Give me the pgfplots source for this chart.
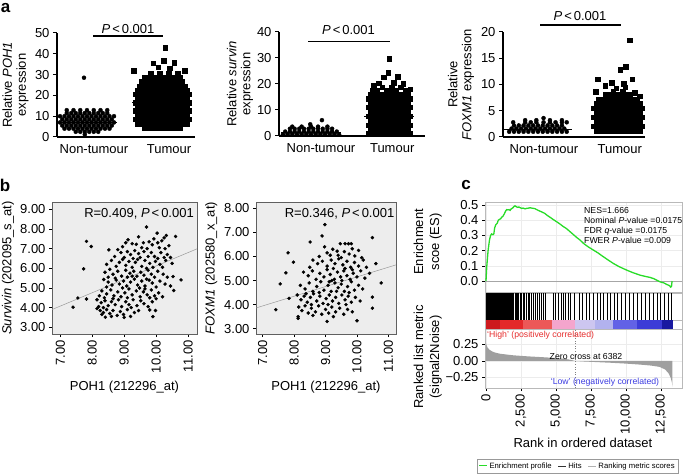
\documentclass[border=0pt]{standalone}
\usepackage{pgfplots}
\pgfplotsset{compat=1.18}
\usepackage{fontspec}
\setmainfont{Liberation Sans}
\newcommand\fsa{\fontsize{13}{14}\selectfont}
\newcommand\fsl{\fontsize{13}{16}\selectfont}
\newcommand\fsb{\fontsize{8.7}{10}\selectfont}
\newcommand\fsc{\fontsize{7.7}{9}\selectfont}
\definecolor{esgreen}{RGB}{40,220,40}
\definecolor{hired}{RGB}{230,45,45}
\definecolor{lowblue}{RGB}{60,60,225}
\definecolor{cbA}{RGB}{205,25,30}
\definecolor{cbB}{RGB}{228,40,42}
\definecolor{cbC}{RGB}{236,88,88}
\definecolor{cbD}{RGB}{244,165,205}
\definecolor{cbE}{RGB}{205,198,240}
\definecolor{cbF}{RGB}{178,178,238}
\definecolor{cbG}{RGB}{98,98,230}
\definecolor{cbH}{RGB}{60,60,215}
\definecolor{cbI}{RGB}{25,25,160}
\pgfplotsset{
  /pgf/number format/assume math mode=true,
  every axis/.append style={scale only axis, anchor=south west, enlargelimits=false,
    tick label style={font=\fsa}, label style={font=\fsa}, scaled ticks=false},
  apanel/.style={axis lines*=left, axis line style={-,line width=1.1pt,black},
    tick align=outside, major tick length=4pt, y tick style={line width=1pt,black},
    x tick style={draw=none}, clip=false, ylabel style={align=center, anchor=center}},
  bpanel/.style={axis background/.style={fill=gray!14},
    axis line style={gray!75!black, line width=0.7pt},
    tick align=outside, xtick pos=left, ytick pos=left, major tick length=3pt,
    tick style={black, line width=0.6pt},
    xtick={7,8,9,10,11}, ytick={3,4,5,6,7,8,9},
    xticklabel style={rotate=90, anchor=east, /pgf/number format/.cd, fixed, fixed zerofill, precision=2},
    yticklabel style={/pgf/number format/.cd, fixed, fixed zerofill, precision=2},
    ylabel style={anchor=center}, xlabel style={anchor=center}},
  circ/.style={only marks, mark=*, mark size=2pt, black, mark options={fill=black}},
  sq/.style={only marks, mark=square*, mark size=2.3pt, black, mark options={fill=black}},
  dot/.style={only marks, mark=*, mark size=1.55pt, black, mark options={fill=black}},
}
\begin{document}
\begin{tikzpicture}[x=1pt,y=1pt]
\useasboundingbox (0,0) rectangle (685,474);

% ================= a1 =================
\begin{axis}[apanel, at={(57pt,337pt)}, width=138pt, height=104pt,
  xmin=-0.40, xmax=1.44, ymin=0, ymax=50, ytick={0,10,20,30,40,50},
  xtick={0.093,1.093}, xticklabels={Non-tumour,Tumour},
  ylabel={Relative \textit{POH1}\\expression},
  ylabel style={at={(axis description cs:-0.30,0.5)}}]
\addplot[circ] coordinates {(-0.03,1.2)
(-0.15,2.5)(-0.09,2.5)(-0.03,2.5)(0.03,2.5)(0.09,2.5)(0.15,2.5)
(-0.30,4)(-0.24,4)(-0.18,4)(-0.12,4)(-0.06,4)(0,4)(0.06,4)(0.12,4)(0.18,4)(0.24,4)(0.30,4)
(-0.33,5.5)(-0.27,5.5)(-0.21,5.5)(-0.15,5.5)(-0.09,5.5)(-0.03,5.5)(0.03,5.5)(0.09,5.5)(0.15,5.5)(0.21,5.5)(0.27,5.5)(0.33,5.5)
(-0.36,7)(-0.30,7)(-0.24,7)(-0.18,7)(-0.12,7)(-0.06,7)(0,7)(0.06,7)(0.12,7)(0.18,7)(0.24,7)(0.30,7)(0.36,7)
(-0.33,8.5)(-0.27,8.5)(-0.21,8.5)(-0.15,8.5)(-0.09,8.5)(-0.03,8.5)(0.03,8.5)(0.09,8.5)(0.15,8.5)(0.21,8.5)(0.27,8.5)(0.33,8.5)
(-0.36,10)(-0.30,10)(-0.24,10)(-0.18,10)(-0.12,10)(-0.06,10)(0,10)(0.06,10)(0.12,10)(0.18,10)(0.24,10)(0.30,10)(0.36,10)
(-0.27,11.5)(-0.21,11.5)(-0.15,11.5)(-0.09,11.5)(-0.03,11.5)(0.03,11.5)(0.09,11.5)(0.15,11.5)(0.21,11.5)(0.27,11.5)
(-0.27,12.9)(-0.18,12.9)(-0.09,12.9)(0,12.9)(0.09,12.9)(0.18,12.9)(0.27,12.9)
(-0.04,28.5)};
\addplot[sq] coordinates {
(0.76,4.5)(0.82,4.5)(0.88,4.5)(0.94,4.5)(1,4.5)(1.06,4.5)(1.12,4.5)(1.18,4.5)(1.24,4.5)
(0.67,6.5)(0.73,6.5)(0.79,6.5)(0.85,6.5)(0.91,6.5)(0.97,6.5)(1.03,6.5)(1.09,6.5)(1.15,6.5)(1.21,6.5)(1.27,6.5)(1.33,6.5)
(0.64,8.5)(0.70,8.5)(0.76,8.5)(0.82,8.5)(0.88,8.5)(0.94,8.5)(1,8.5)(1.06,8.5)(1.12,8.5)(1.18,8.5)(1.24,8.5)(1.30,8.5)(1.36,8.5)
(0.67,10.5)(0.73,10.5)(0.79,10.5)(0.85,10.5)(0.91,10.5)(0.97,10.5)(1.03,10.5)(1.09,10.5)(1.15,10.5)(1.21,10.5)(1.27,10.5)(1.33,10.5)
(0.64,12.5)(0.70,12.5)(0.76,12.5)(0.82,12.5)(0.88,12.5)(0.94,12.5)(1,12.5)(1.06,12.5)(1.12,12.5)(1.18,12.5)(1.24,12.5)(1.30,12.5)(1.36,12.5)
(0.67,14.5)(0.73,14.5)(0.79,14.5)(0.85,14.5)(0.91,14.5)(0.97,14.5)(1.03,14.5)(1.09,14.5)(1.15,14.5)(1.21,14.5)(1.27,14.5)(1.33,14.5)
(0.64,16.5)(0.70,16.5)(0.76,16.5)(0.82,16.5)(0.88,16.5)(0.94,16.5)(1,16.5)(1.06,16.5)(1.12,16.5)(1.18,16.5)(1.24,16.5)(1.30,16.5)(1.36,16.5)
(0.67,18.5)(0.73,18.5)(0.79,18.5)(0.85,18.5)(0.91,18.5)(0.97,18.5)(1.03,18.5)(1.09,18.5)(1.15,18.5)(1.21,18.5)(1.27,18.5)(1.33,18.5)
(0.64,20.5)(0.70,20.5)(0.76,20.5)(0.82,20.5)(0.88,20.5)(0.94,20.5)(1,20.5)(1.06,20.5)(1.12,20.5)(1.18,20.5)(1.24,20.5)(1.30,20.5)(1.36,20.5)
(0.67,22.5)(0.73,22.5)(0.79,22.5)(0.85,22.5)(0.91,22.5)(0.97,22.5)(1.03,22.5)(1.09,22.5)(1.15,22.5)(1.21,22.5)(1.27,22.5)(1.33,22.5)
(0.70,24.5)(0.76,24.5)(0.82,24.5)(0.88,24.5)(0.94,24.5)(1,24.5)(1.06,24.5)(1.12,24.5)(1.18,24.5)(1.24,24.5)(1.30,24.5)
(0.73,26.5)(0.79,26.5)(0.85,26.5)(0.91,26.5)(0.97,26.5)(1.03,26.5)(1.09,26.5)(1.15,26.5)(1.21,26.5)(1.27,26.5)
(0.76,28.5)(0.82,28.5)(0.88,28.5)(0.94,28.5)(1,28.5)(1.06,28.5)(1.12,28.5)(1.18,28.5)(1.24,28.5)
(0.85,30.3)(0.97,30.3)(1.09,30.3)(1.21,30.3)
(0.62,32.0)(1.30,31.8)(0.95,33.5)(1.10,33.0)(0.88,35.5)(1.16,35.8)(1.02,36.8)(1.04,43.0)};
\addplot[black, line width=1pt] coordinates {(-0.40,7.2)(0.40,7.2)};
\addplot[black, line width=1pt] coordinates {(0.60,16.8)(1.40,16.8)};
\end{axis}

% ================= a2 =================
\begin{axis}[apanel, at={(279pt,338pt)}, width=146pt, height=104pt,
  xmin=-0.41, xmax=1.46, ymin=0, ymax=40, ytick={0,10,20,30,40},
  xtick={0.128,1.04}, xticklabels={Non-tumour,Tumour},
  ylabel={Relative \textit{survin}\\expression},
  ylabel style={at={(axis description cs:-0.267,0.5)}}]
\addplot[circ] coordinates {
(-0.36,0.6)(-0.30,0.6)(-0.24,0.6)(-0.18,0.6)(-0.12,0.6)(-0.06,0.6)(0,0.6)(0.06,0.6)(0.12,0.6)(0.18,0.6)(0.24,0.6)(0.30,0.6)(0.36,0.6)
(-0.33,1.7)(-0.27,1.7)(-0.21,1.7)(-0.15,1.7)(-0.09,1.7)(-0.03,1.7)(0.03,1.7)(0.09,1.7)(0.15,1.7)(0.21,1.7)(0.27,1.7)(0.33,1.7)
(-0.27,2.8)(-0.21,2.8)(-0.15,2.8)(-0.09,2.8)(-0.03,2.8)(0.03,2.8)(0.09,2.8)(0.15,2.8)(0.21,2.8)(0.27,2.8)
(-0.24,3.6)(-0.12,3.6)(0,3.6)(0.09,3.6)(0.21,3.6)
(-0.01,4.5)(0.14,6.1)};
\addplot[sq] coordinates {
(0.73,0.8)(0.79,0.8)(0.85,0.8)(0.91,0.8)(0.97,0.8)(1.03,0.8)(1.09,0.8)(1.15,0.8)(1.21,0.8)(1.27,0.8)
(0.76,2.5)(0.82,2.5)(0.88,2.5)(0.94,2.5)(1,2.5)(1.06,2.5)(1.12,2.5)(1.18,2.5)(1.24,2.5)
(0.73,4.2)(0.79,4.2)(0.85,4.2)(0.91,4.2)(0.97,4.2)(1.03,4.2)(1.09,4.2)(1.15,4.2)(1.21,4.2)(1.27,4.2)
(0.76,5.9)(0.82,5.9)(0.88,5.9)(0.94,5.9)(1,5.9)(1.06,5.9)(1.12,5.9)(1.18,5.9)(1.24,5.9)
(0.73,7.6)(0.79,7.6)(0.85,7.6)(0.91,7.6)(0.97,7.6)(1.03,7.6)(1.09,7.6)(1.15,7.6)(1.21,7.6)(1.27,7.6)
(0.76,9.3)(0.82,9.3)(0.88,9.3)(0.94,9.3)(1,9.3)(1.06,9.3)(1.12,9.3)(1.18,9.3)(1.24,9.3)
(0.73,11.0)(0.79,11.0)(0.85,11.0)(0.91,11.0)(0.97,11.0)(1.03,11.0)(1.09,11.0)(1.15,11.0)(1.21,11.0)(1.27,11.0)
(0.76,12.7)(0.82,12.7)(0.88,12.7)(0.94,12.7)(1,12.7)(1.06,12.7)(1.12,12.7)(1.18,12.7)(1.24,12.7)
(0.73,14.4)(0.79,14.4)(0.85,14.4)(0.91,14.4)(0.97,14.4)(1.03,14.4)(1.09,14.4)(1.15,14.4)(1.21,14.4)(1.27,14.4)
(0.76,16.1)(0.82,16.1)(0.88,16.1)(0.94,16.1)(1,16.1)(1.06,16.1)(1.12,16.1)(1.18,16.1)(1.24,16.1)
(0.79,17.6)(0.85,17.6)(0.97,17.6)(1.03,17.6)(1.09,17.6)(1.21,17.6)
(0.91,18.8)(1.03,18.8)(1.15,18.8)(1.27,18.0)
(0.80,19.4)(1.18,20.0)(0.87,20.3)(1.06,20.6)(0.93,22.6)(1.11,22.9)(0.99,24.3)(1.0,29.8)};
\addplot[black, line width=1pt] coordinates {(-0.38,1.5)(0.38,1.5)};
\addplot[black, line width=1pt] coordinates {(0.68,7.5)(1.32,7.5)};
\end{axis}

% ================= a3 =================
\begin{axis}[apanel, at={(503pt,337pt)}, width=142pt, height=105pt,
  xmin=-0.4375, xmax=1.34, ymin=0, ymax=20, ytick={0,5,10,15,20},
  xtick={0.075,1.025}, xticklabels={Non-tumour,Tumour},
  ylabel={Relative\\\textit{FOXM1} expression},
  ylabel style={at={(axis description cs:-0.296,0.5)}}]
\addplot[circ] coordinates {
(-0.36,1.0)(-0.30,1.0)(-0.24,1.0)(-0.18,1.0)(-0.12,1.0)(-0.06,1.0)(0,1.0)(0.06,1.0)(0.12,1.0)(0.18,1.0)(0.24,1.0)(0.30,1.0)(0.36,1.0)
(-0.33,1.6)(-0.27,1.6)(-0.21,1.6)(-0.15,1.6)(-0.09,1.6)(-0.03,1.6)(0.03,1.6)(0.09,1.6)(0.15,1.6)(0.21,1.6)(0.27,1.6)(0.33,1.6)
(-0.30,2.2)(-0.24,2.2)(-0.18,2.2)(-0.12,2.2)(-0.06,2.2)(0,2.2)(0.06,2.2)(0.12,2.2)(0.18,2.2)(0.24,2.2)(0.30,2.2)
(-0.31,2.8)(-0.16,2.8)(-0.09,2.8)(-0.02,2.8)(0.07,2.8)(0.15,2.8)(0.22,2.8)(0.30,2.8)(0.36,2.8)
(-0.16,3.2)(-0.02,3.2)(0.15,3.2)(0.30,3.2)(0.07,3.6)};
\addplot[sq] coordinates {
(0.73,1.2)(0.79,1.2)(0.85,1.2)(0.91,1.2)(0.97,1.2)(1.03,1.2)(1.09,1.2)(1.15,1.2)(1.21,1.2)(1.27,1.2)
(0.70,2.05)(0.76,2.05)(0.82,2.05)(0.88,2.05)(0.94,2.05)(1,2.05)(1.06,2.05)(1.12,2.05)(1.18,2.05)(1.24,2.05)(1.30,2.05)
(0.73,2.9)(0.79,2.9)(0.85,2.9)(0.91,2.9)(0.97,2.9)(1.03,2.9)(1.09,2.9)(1.15,2.9)(1.21,2.9)(1.27,2.9)
(0.70,3.75)(0.76,3.75)(0.82,3.75)(0.88,3.75)(0.94,3.75)(1,3.75)(1.06,3.75)(1.12,3.75)(1.18,3.75)(1.24,3.75)(1.30,3.75)
(0.73,4.6)(0.79,4.6)(0.85,4.6)(0.91,4.6)(0.97,4.6)(1.03,4.6)(1.09,4.6)(1.15,4.6)(1.21,4.6)(1.27,4.6)
(0.70,5.45)(0.76,5.45)(0.82,5.45)(0.88,5.45)(0.94,5.45)(1,5.45)(1.06,5.45)(1.12,5.45)(1.18,5.45)(1.24,5.45)(1.30,5.45)
(0.73,6.3)(0.79,6.3)(0.85,6.3)(0.91,6.3)(0.97,6.3)(1.03,6.3)(1.09,6.3)(1.15,6.3)(1.21,6.3)(1.27,6.3)
(0.76,7.15)(0.82,7.15)(0.88,7.15)(0.94,7.15)(1,7.15)(1.06,7.15)(1.12,7.15)(1.18,7.15)(1.24,7.15)
(0.85,8.0)(0.91,8.0)(0.97,8.0)(1.03,8.0)(1.09,8.0)(1.15,8.0)(0.94,8.7)(1.06,8.7)
(1.27,7.8)(0.72,8.6)(1.21,8.4)(0.98,9.3)(1.09,9.5)(0.84,9.8)(1.07,10.2)(0.92,10.3)(0.75,11.0)(1.18,11.0)
(1.03,12.8)(1.10,13.4)(1.15,18.4)};
\addplot[black, line width=1pt] coordinates {(-0.42,1.4)(0.42,1.4)};
\addplot[black, line width=1pt] coordinates {(0.66,3.9)(1.34,3.9)};
\end{axis}

% P-value brackets
\draw[line width=1.1pt] (93,438) -- (163,438);
\node[anchor=base, font=\fsa, inner sep=0] at (128,440.5) {\textit{P}\hspace{2pt}<\hspace{2pt}0.001};
\draw[line width=1.1pt] (308,432.3) -- (390,432.3);
\node[anchor=base, font=\fsa, inner sep=0] at (348.5,439.3) {\textit{P}\hspace{2pt}<\hspace{2pt}0.001};
\draw[line width=1.1pt] (540,449) -- (621,449);
\node[anchor=base, font=\fsa, inner sep=0] at (580,453.3) {\textit{P}\hspace{2pt}<\hspace{2pt}0.001};

% ================= b1 =================
\begin{axis}[bpanel, at={(52pt,140pt)}, width=145pt, height=132pt,
  xmin=6.74, xmax=11.28, ymin=2.657, ymax=9.374,
  ylabel={\textit{Survivin} (202095\_s\_at)},
  ylabel style={at={(axis description cs:-0.303,0.5)}},
  xlabel={POH1 (212296\_at)},
  xlabel style={at={(axis description cs:0.5,-0.40)}}]
\addplot[gray!80, line width=0.5pt] coordinates {(6.74,3.9)(11.28,6.99)};
\addplot[dot] coordinates {
(9.70,8.10)(10.03,7.79)(10.32,7.67)(10.61,7.62)(9.45,7.60)(9.93,7.50)(10.25,7.55)(9.12,7.45)
(7.82,7.37)(7.97,7.11)(9.05,7.30)(9.25,7.25)(9.38,7.22)(9.60,7.30)(9.78,7.35)(9.88,7.20)(10.05,7.30)(10.18,7.40)(10.40,7.15)(8.52,6.94)(8.95,7.10)(9.55,7.05)(9.72,7.00)(10.10,7.05)(10.28,7.00)
(8.80,6.95)(8.90,6.80)(9.10,6.85)(9.20,6.70)(9.33,6.90)(9.45,6.75)(9.62,6.85)(9.85,6.80)(9.95,6.60)(10.15,6.80)(10.35,6.70)(10.45,6.55)(8.70,6.60)(9.00,6.55)(9.28,6.50)(9.50,6.55)(9.75,6.60)(10.05,6.50)(10.25,6.55)
(8.60,6.40)(8.85,6.30)(8.95,6.45)(9.15,6.35)(9.35,6.30)(9.42,6.45)(9.65,6.40)(9.80,6.25)(9.98,6.35)(10.12,6.20)(10.30,6.40)(8.75,6.10)(9.05,6.15)(9.25,6.05)(9.55,6.10)(9.70,6.00)(9.90,6.05)(10.20,6.05)(10.50,6.25)(7.73,5.97)(8.45,6.20)
(8.40,5.80)(8.55,5.95)(8.65,5.70)(8.80,5.85)(8.92,5.60)(9.05,5.90)(9.18,5.75)(9.30,5.85)(9.40,5.60)(9.52,5.80)(9.62,5.65)(9.75,5.90)(9.85,5.70)(9.95,5.55)(10.05,5.85)(10.22,5.70)(10.35,5.55)(10.53,5.58)(10.78,5.41)(8.50,5.55)(8.72,5.50)(9.10,5.55)(9.25,5.60)
(8.36,5.43)(8.50,5.30)(8.62,5.15)(8.75,5.40)(8.85,5.20)(8.98,5.35)(9.08,5.10)(9.20,5.30)(9.32,5.45)(9.42,5.15)(9.55,5.35)(9.65,5.10)(9.78,5.40)(9.88,5.25)(10.00,5.05)(10.12,5.35)(10.28,5.20)(10.45,5.10)(8.45,5.05)(8.95,5.00)(9.48,5.00)(9.70,5.45)
(8.30,4.85)(8.45,4.70)(8.58,4.90)(8.68,4.60)(8.80,4.80)(8.90,4.55)(9.02,4.75)(9.15,4.95)(9.25,4.65)(9.38,4.85)(9.50,4.55)(9.60,4.80)(9.72,4.65)(9.85,4.90)(9.95,4.60)(10.08,4.75)(10.20,4.55)(10.55,4.87)(8.22,4.60)(8.38,4.50)(9.10,4.50)(9.65,4.95)(9.80,4.50)
(7.55,4.49)(7.82,4.44)(8.15,4.40)(8.28,4.25)(8.40,4.35)(8.50,4.10)(8.60,4.30)(8.72,4.15)(8.82,4.40)(8.92,4.05)(9.05,4.30)(9.15,4.15)(9.28,4.40)(9.40,4.10)(9.52,4.35)(9.62,4.20)(9.75,4.05)(9.88,4.30)(10.00,4.45)(8.20,4.05)(8.35,4.00)(8.65,4.45)(9.22,4.00)(7.40,4.02)
(8.15,3.95)(8.25,3.85)(8.35,3.75)(8.45,3.90)(8.55,3.70)(8.65,3.85)(8.78,3.60)(8.88,3.80)(8.98,3.65)(9.10,3.90)(9.20,3.55)(9.32,3.75)(9.45,3.85)(9.80,3.88)(9.98,3.85)(9.90,3.54)(8.41,3.51)(8.60,3.55)(9.00,3.50)(8.30,3.65)};
\end{axis}

% ================= b2 =================
\begin{axis}[bpanel, at={(256pt,140pt)}, width=140pt, height=132pt,
  xmin=6.79, xmax=11.24, ymin=2.78, ymax=8.26,
  ylabel={\textit{FOXM1} (202580\_x\_at)},
  ylabel style={at={(axis description cs:-0.32,0.5)}},
  xlabel={POH1 (212296\_at)},
  xlabel style={at={(axis description cs:0.5,-0.40)}}]
\addplot[gray!80, line width=0.5pt] coordinates {(6.79,3.86)(11.24,5.65)};
\addplot[dot] coordinates {
(8.98,7.32)(8.89,6.85)(8.51,6.60)(10.49,6.78)(9.47,6.53)(9.62,6.53)(9.73,6.53)(9.82,6.53)(8.97,6.40)(9.23,6.30)(9.37,6.22)(9.85,6.32)(10.05,6.25)
(7.81,6.15)(9.05,6.15)(9.40,6.05)(9.60,6.20)(9.75,6.10)(9.93,6.02)(8.80,6.00)(9.15,6.05)(9.50,5.95)(10.15,5.95)
(7.98,5.76)(8.60,5.85)(8.75,5.70)(8.90,5.80)(9.05,5.60)(9.18,5.85)(9.30,5.70)(9.42,5.90)(9.55,5.65)(9.68,5.80)(9.80,5.55)(9.92,5.75)(10.05,5.60)(10.20,5.85)(10.30,5.55)(8.50,5.55)(9.25,5.50)(9.62,5.50)(10.60,5.70)
(7.74,5.32)(8.30,5.35)(8.45,5.20)(8.58,5.40)(8.70,5.05)(8.82,5.30)(8.95,5.15)(9.05,5.45)(9.15,5.25)(9.28,5.05)(9.38,5.35)(9.48,5.15)(9.58,5.40)(9.68,5.20)(9.78,5.05)(9.88,5.30)(10.00,5.15)(10.12,5.40)(10.25,5.10)(10.40,5.30)(9.20,5.00)(9.52,5.00)(9.85,5.45)
(7.56,4.86)(8.20,4.80)(8.35,4.65)(8.48,4.90)(8.60,4.55)(8.72,4.75)(8.85,4.95)(8.95,4.60)(9.08,4.80)(9.18,4.55)(9.30,4.90)(9.40,4.70)(9.50,4.85)(9.60,4.55)(9.70,4.75)(9.82,4.95)(9.92,4.60)(10.05,4.80)(10.18,4.65)(10.77,4.90)(9.12,4.95)(9.35,4.55)(9.75,4.50)(8.80,4.50)
(7.84,4.26)(8.10,4.40)(8.22,4.20)(8.32,4.35)(8.42,4.10)(8.52,4.30)(8.62,4.45)(8.72,4.15)(8.82,4.35)(8.92,4.05)(9.02,4.25)(9.12,4.40)(9.22,4.15)(9.32,4.30)(9.42,4.05)(9.52,4.40)(9.62,4.20)(9.72,4.35)(9.82,4.10)(9.95,4.30)(10.10,4.15)(10.49,4.31)(8.55,4.00)(9.08,4.00)(9.65,4.00)(8.38,4.45)
(7.42,3.79)(8.15,3.90)(8.25,3.75)(8.35,3.95)(8.45,3.65)(8.55,3.85)(8.68,3.70)(8.78,3.95)(8.88,3.60)(9.00,3.80)(9.10,3.65)(9.20,3.90)(9.32,3.70)(9.45,3.85)(9.58,3.60)(9.70,3.80)(9.85,3.70)(10.49,3.85)(8.13,3.50)(8.60,3.55)(9.25,3.50)
(8.13,3.43)(10.00,3.33)(9.05,3.30)};
\end{axis}

\node[anchor=base east, font=\fsa, inner sep=0] at (194,256) {R=0.409, \textit{P}\hspace{2pt}<\hspace{2pt}0.001};
\node[anchor=base east, font=\fsa, inner sep=0] at (394.5,256) {R=0.346, \textit{P}\hspace{2pt}<\hspace{2pt}0.001};

% ================= c: ES =================
\begin{axis}[at={(485pt,182pt)}, width=197pt, height=90pt,
  xmin=-70, xmax=14000, ymin=-0.072, ymax=0.52,
  xtick={0,2500,5000,7500,10000,12500}, xticklabels={,,,,,}, x tick style={draw=none},
  ytick={0,0.1,0.2,0.3,0.4,0.5}, ytick pos=left, tick align=outside, major tick length=3pt,
  y tick style={black, line width=0.5pt},
  yticklabel style={/pgf/number format/.cd, fixed, fixed zerofill, precision=1},
  grid=major, grid style={gray!15, line width=0.4pt},
  axis line style={gray!55, line width=0.6pt},
  ylabel={Enrichment\\scoe (ES)},
  ylabel style={align=center, anchor=center, font=\fsl, at={(axis description cs:-0.29,0.556)}}]
\addplot[gray!70, line width=0.6pt] coordinates {(-70,0)(14000,0)};
\addplot[esgreen, line width=1.3pt] coordinates {
(0,0)(60,0.1)(150,0.2)(250,0.27)(330,0.30)(400,0.31)(500,0.305)(560,0.31)(620,0.35)(700,0.37)(800,0.38)(880,0.40)(950,0.405)(1050,0.41)(1120,0.42)(1200,0.425)(1300,0.44)(1400,0.46)(1480,0.47)(1560,0.468)(1650,0.47)(1720,0.465)(1800,0.475)(1900,0.48)(2000,0.49)(2071,0.495)(2150,0.49)(2250,0.485)(2350,0.487)(2430,0.483)(2550,0.478)(2650,0.48)(2786,0.475)(2900,0.478)(3050,0.48)(3150,0.482)(3262,0.48)(3400,0.478)(3500,0.476)(3619,0.47)(3800,0.462)(3976,0.455)(4200,0.445)(4400,0.43)(4571,0.42)(4800,0.405)(5050,0.39)(5286,0.375)(5500,0.36)(5750,0.345)(6000,0.325)(6250,0.305)(6500,0.285)(6714,0.27)(7000,0.245)(7300,0.225)(7667,0.204)(8000,0.185)(8381,0.16)(8700,0.14)(9095,0.116)(9500,0.095)(10048,0.072)(10500,0.055)(11000,0.039)(11400,0.03)(11714,0.024)(12000,0.015)(12428,-0.005)(12700,-0.012)(12905,-0.022)(13100,-0.03)(13190,-0.04)(13250,-0.035)(13290,0.0)};
\end{axis}

% ================= c: hits =================
\begin{axis}[at={(485pt,154pt)}, width=197pt, height=27pt,
  xmin=-70, xmax=14000, ymin=0, ymax=1, xtick=\empty, ytick=\empty,
  axis line style={gray!55, line width=0.6pt}]
\addplot[ycomb, black, line width=0.6pt, no marks] coordinates {
(30,1)(90,1)(150,1)(200,1)(260,1)(330,1)(380,1)(440,1)(520,1)(580,1)(640,1)(700,1)(760,1)(830,1)(900,1)(960,1)(1030,1)(1100,1)(1170,1)(1240,1)(1300,1)(1380,1)(1450,1)(1520,1)(1600,1)(1680,1)(1760,1)(1830,1)(1900,1)(1980,1)(2060,1)(2150,1)(2240,1)(2330,1)(2420,1)(2520,1)(2640,1)(2760,1)(2870,1)(2990,1)(3120,1)(3250,1)(3380,1)(3520,1)(3660,1)(3800,1)(3950,1)(4100,1)(4250,1)(4820,1)(4980,1)(5150,1)(5350,1)(5520,1)(5700,1)(5880,1)(6050,1)(6300,1)(6650,1)(6900,1)(7150,1)(7400,1)(7700,1)(7950,1)(8150,1)(8400,1)(8650,1)(8900,1)(9150,1)(9400,1)(9650,1)(9950,1)(10250,1)(10500,1)(10800,1)(11100,1)(11350,1)(11650,1)(11950,1)(12200,1)(12450,1)(12750,1)(13000,1)(13250,1)};
\end{axis}

% ================= c: colour bar =================
\begin{axis}[at={(485pt,145pt)}, width=197pt, height=9pt,
  xmin=-70, xmax=14000, ymin=0, ymax=1, xtick=\empty, ytick=\empty,
  axis line style={gray!55, line width=0.6pt}]
\addplot[fill=cbA, draw=none] coordinates {(0,0)(1000,0)(1000,1)(0,1)};
\addplot[fill=cbB, draw=none] coordinates {(1000,0)(2667,0)(2667,1)(1000,1)};
\addplot[fill=cbC, draw=none] coordinates {(2667,0)(4690,0)(4690,1)(2667,1)};
\addplot[fill=cbD, draw=none] coordinates {(4690,0)(6357,0)(6357,1)(4690,1)};
\addplot[fill=cbE, draw=none] coordinates {(6357,0)(7786,0)(7786,1)(6357,1)};
\addplot[fill=cbF, draw=none] coordinates {(7786,0)(9095,0)(9095,1)(7786,1)};
\addplot[fill=cbG, draw=none] coordinates {(9095,0)(10762,0)(10762,1)(9095,1)};
\addplot[fill=cbH, draw=none] coordinates {(10762,0)(12548,0)(12548,1)(10762,1)};
\addplot[fill=cbI, draw=none] coordinates {(12548,0)(13333,0)(13333,1)(12548,1)};
\end{axis}

% ================= c: ranked list =================
\begin{axis}[at={(485pt,86pt)}, width=197pt, height=59pt,
  xmin=-70, xmax=14000, ymin=-0.41, ymax=0.485,
  xtick={0,2500,5000,7500,10000,12500}, ytick={-0.25,0,0.25},
  yticklabels={−0.25,0.00,0.25},
  xtick pos=left, ytick pos=left, tick align=outside, major tick length=3pt,
  tick style={black, line width=0.5pt},
  xticklabel style={rotate=90, anchor=east, /pgf/number format/1000 sep={,}},
  grid=major, grid style={gray!15, line width=0.4pt},
  axis line style={gray!55, line width=0.6pt},
  ylabel={Ranked list metric\\(signal2Noise)},
  ylabel style={align=center, anchor=center, font=\fsl, at={(axis description cs:-0.29,0.525)}},
  xlabel={Rank in ordered dataset},
  xlabel style={anchor=center, at={(axis description cs:0.497,-0.93)}},
  legend style={at={(axis description cs:0.47,-1.322)}, anchor=center, draw=gray!80,
    font=\fsc, legend columns=-1, inner sep=1.5pt, line width=0.5pt,
    /tikz/every even column/.append style={column sep=4pt}},
  legend image code/.code={\draw[#1] (0pt,0pt) -- (8pt,0pt);}]
\addplot[fill=gray!75, draw=none, forget plot] coordinates {
(0,0)(0,0.27)(40,0.24)(120,0.20)(250,0.17)(400,0.15)(600,0.13)(1000,0.11)(1500,0.097)(2000,0.085)(3000,0.07)(4000,0.058)(5000,0.045)(5600,0.032)(6000,0.02)(6382,0)(7000,-0.008)(8000,-0.018)(9000,-0.028)(10000,-0.04)(11000,-0.055)(11800,-0.07)(12400,-0.09)(12800,-0.13)(13050,-0.19)(13200,-0.26)(13280,-0.33)(13320,-0.39)(13320,0)};
\addplot[gray, dotted, line width=0.6pt, forget plot] coordinates {(6382,-0.41)(6382,0.485)};
\addlegendimage{esgreen, line width=1pt}\addlegendentry{Enrichment profile}
\addlegendimage{black!80, line width=0.8pt}\addlegendentry{Hits}
\addlegendimage{gray!60, line width=0.8pt}\addlegendentry{Ranking metric scores}
\end{axis}

% annotations panel c
\node[anchor=base west, font=\fsb, inner sep=0] at (584,260.7) {NES=1.666};
\node[anchor=base west, font=\fsb, inner sep=0] at (584,250.7) {Nominal \textit{P}-value =0.0175};
\node[anchor=base west, font=\fsb, inner sep=0] at (584,240.7) {FDR \textit{q}-value =0.0175};
\node[anchor=base west, font=\fsb, inner sep=0] at (584,230.7) {FWER \textit{P}-value =0.009};
\node[anchor=base west, font=\fsb, inner sep=0, text=hired] at (487,136) {`High' (positively correlated)};
\node[anchor=base, font=\fsb, inner sep=0] at (586,114) {Zero cross at 6382};
\node[anchor=base, font=\fsb, inner sep=0, text=lowblue] at (605,90) {`Low' (negatively correlated)};

% panel letters
\node[font=\bfseries\fontsize{17}{17}\selectfont, inner sep=0] at (5.5,466) {a};
\node[font=\bfseries\fontsize{17}{17}\selectfont, inner sep=0] at (5,289) {b};
\node[font=\bfseries\fontsize{17}{17}\selectfont, inner sep=0] at (466,289) {c};
\end{tikzpicture}
\end{document}
